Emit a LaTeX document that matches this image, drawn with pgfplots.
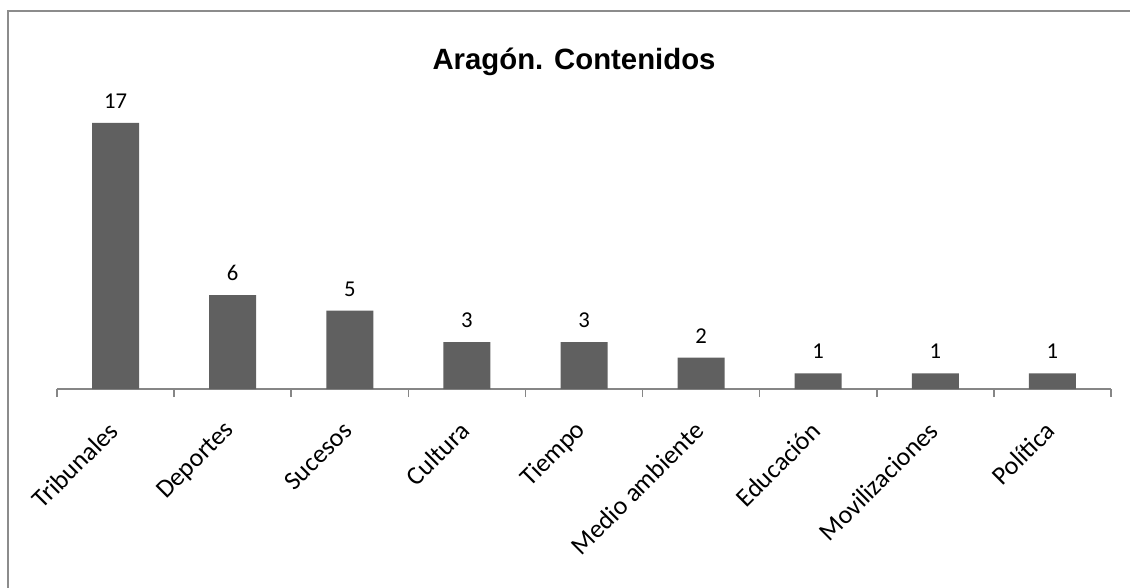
\documentclass[border=0pt]{standalone}
\usepackage{pgfplots}
\pgfplotsset{compat=1.18}
\usepackage{fontspec}
\setmainfont{Carlito}
\newfontfamily\titlefont{Liberation Sans}

\definecolor{barfill}{HTML}{606060}
\definecolor{axisgray}{HTML}{868686}
\definecolor{framegray}{HTML}{8C8C8C}

\begin{document}
\begin{tikzpicture}
\begin{axis}[
  scale only axis,
  width=790.5pt, height=234.75pt,
  xmin=-0.5, xmax=8.5, ymin=0, ymax=20,
  axis y line=none,
  axis x line=bottom,
  axis line style={draw=axisgray, line width=1.2pt, -},
  xtick={0,...,8},
  xticklabels={Tribunales,Deportes,Sucesos,Cultura,Tiempo,Medio ambiente,Educación,Movilizaciones,Política},
  major tick length=0pt,
  minor xtick={-0.5,0.5,...,8.5},
  minor tick length=6pt,
  tick align=outside,
  every tick/.style={draw=axisgray, line width=1.2pt},
  xticklabel style={xshift=-1.5pt, yshift=-28pt, rotate=45, anchor=east, inner sep=0pt, font=\fontsize{19.5}{21}\selectfont},
  ybar, bar width=35.25pt,
  clip=false,
  /pgf/number format/assume math mode=true,
  nodes near coords,
  every node near coord/.append style={font=\fontsize{17}{19}\selectfont, anchor=base, inner sep=0pt, yshift=11pt, black},
]
\addplot[fill=barfill, draw=none] coordinates {
  (0,17) (1,6) (2,5) (3,3) (4,3) (5,2) (6,1) (7,1) (8,1)
};
\coordinate (o) at (axis cs:-0.5,0);
\end{axis}
\pgfresetboundingbox
% page = 1130 x 588 px; axis corner sits at (57,199) px from bottom left
\begin{scope}[shift={(o)}, x=0.75pt, y=0.75pt]
\path[use as bounding box] (-57,-199) rectangle (1073,389);
\draw[framegray, line width=1.5pt] (-49,-199) -- (-49,378) -- (1073,378);
\node[anchor=base, font=\titlefont\bfseries\fontsize{22}{24}\selectfont] at (517,319) {Aragón. Contenidos};
\end{scope}
\end{tikzpicture}
\end{document}
